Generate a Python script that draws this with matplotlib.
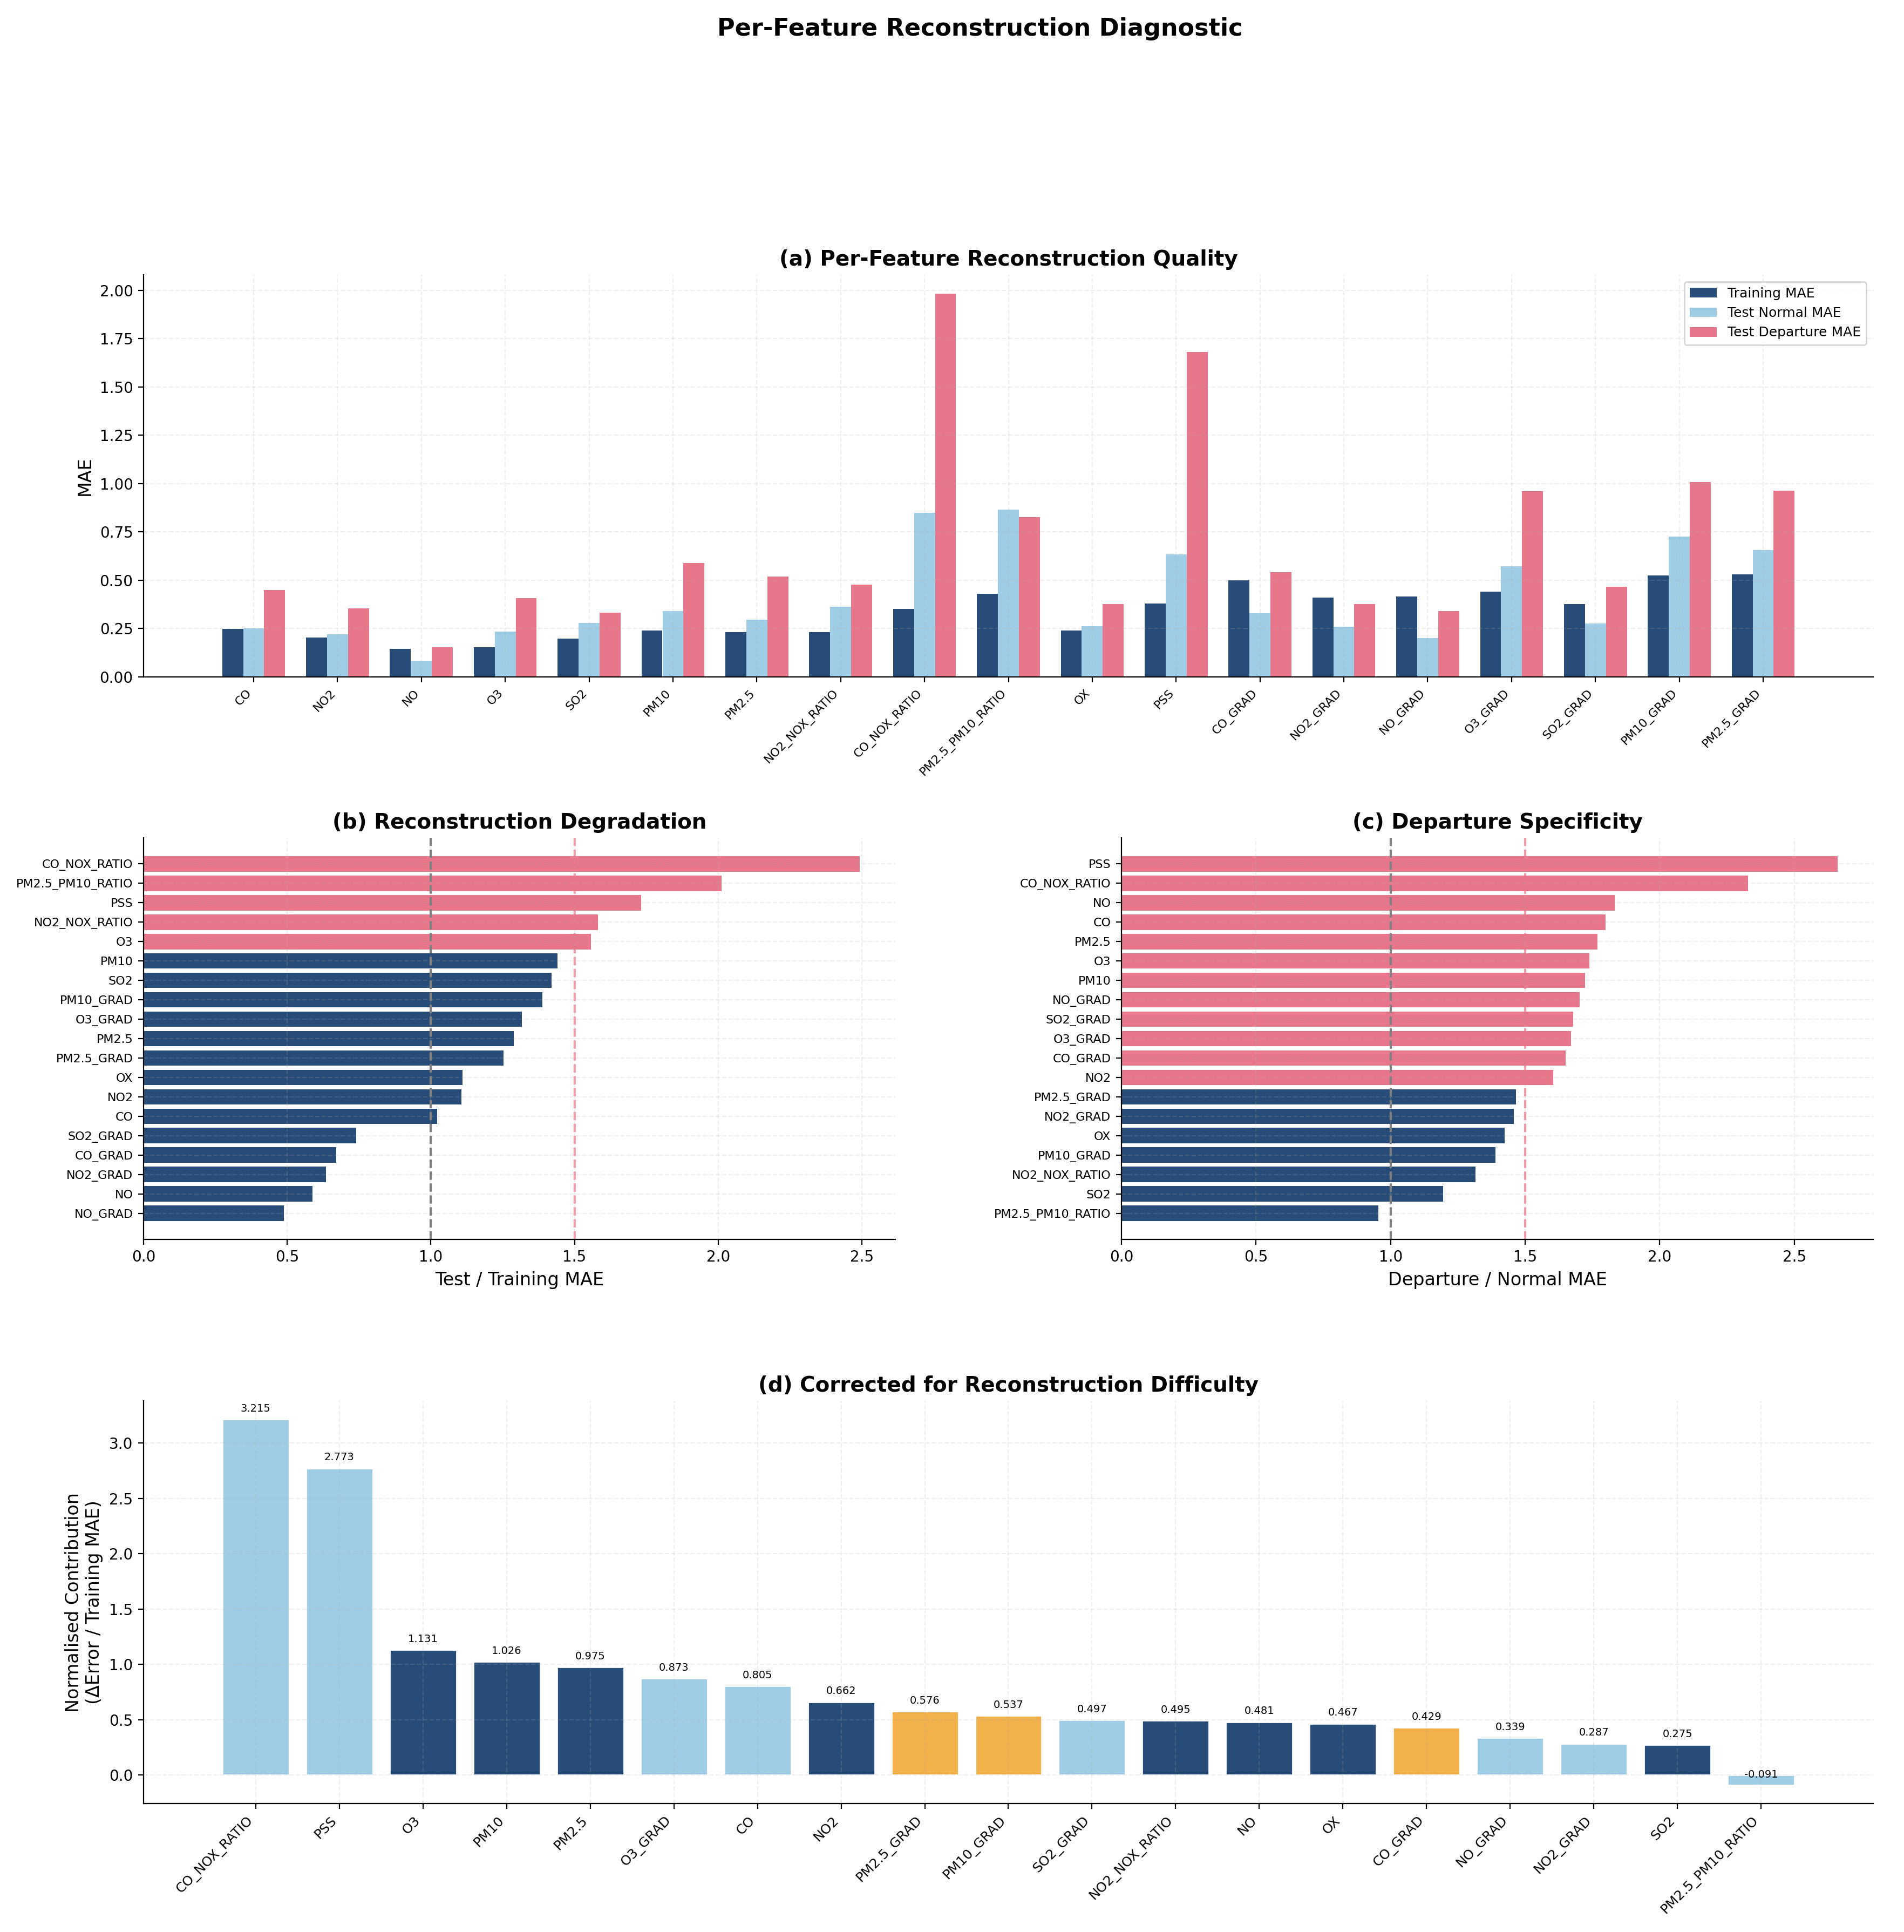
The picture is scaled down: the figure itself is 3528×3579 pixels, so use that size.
import matplotlib
matplotlib.use("Agg")
import matplotlib.pyplot as plt
import numpy as np

# ---------------- data ----------------
features = ["CO", "NO2", "NO", "O3", "SO2", "PM10", "PM2.5", "NO2_NOX_RATIO",
            "CO_NOX_RATIO", "PM2.5_PM10_RATIO", "OX", "PSS", "CO_GRAD", "NO2_GRAD",
            "NO_GRAD", "O3_GRAD", "SO2_GRAD", "PM10_GRAD", "PM2.5_GRAD"]
train_mae = [0.249, 0.203, 0.145, 0.154, 0.198, 0.240, 0.232, 0.232, 0.352, 0.429,
             0.240, 0.379, 0.499, 0.411, 0.416, 0.441, 0.377, 0.524, 0.531]
normal_mae = [0.252, 0.220, 0.085, 0.235, 0.279, 0.340, 0.296, 0.363, 0.850, 0.866,
              0.262, 0.634, 0.330, 0.259, 0.201, 0.571, 0.276, 0.725, 0.656]
departure_mae = [0.450, 0.355, 0.154, 0.407, 0.331, 0.588, 0.519, 0.477, 1.981, 0.827,
                 0.377, 1.682, 0.541, 0.377, 0.340, 0.960, 0.467, 1.008, 0.962]

degr_labels = ["CO_NOX_RATIO", "PM2.5_PM10_RATIO", "PSS", "NO2_NOX_RATIO", "O3", "PM10",
               "SO2", "PM10_GRAD", "O3_GRAD", "PM2.5", "PM2.5_GRAD", "OX", "NO2", "CO",
               "SO2_GRAD", "CO_GRAD", "NO2_GRAD", "NO", "NO_GRAD"]
degr_values = [2.492, 2.011, 1.731, 1.581, 1.558, 1.440, 1.421, 1.389, 1.317, 1.288,
               1.252, 1.111, 1.107, 1.022, 0.740, 0.670, 0.634, 0.588, 0.489]

spec_labels = ["PSS", "CO_NOX_RATIO", "NO", "CO", "PM2.5", "O3", "PM10", "NO_GRAD",
               "SO2_GRAD", "O3_GRAD", "CO_GRAD", "NO2", "PM2.5_GRAD", "NO2_GRAD", "OX",
               "PM10_GRAD", "NO2_NOX_RATIO", "SO2", "PM2.5_PM10_RATIO"]
spec_values = [2.660, 2.328, 1.833, 1.799, 1.768, 1.738, 1.722, 1.702, 1.679, 1.670,
               1.650, 1.605, 1.465, 1.458, 1.424, 1.390, 1.316, 1.194, 0.954]

norm_labels = ["CO_NOX_RATIO", "PSS", "O3", "PM10", "PM2.5", "O3_GRAD", "CO", "NO2",
               "PM2.5_GRAD", "PM10_GRAD", "SO2_GRAD", "NO2_NOX_RATIO", "NO", "OX",
               "CO_GRAD", "NO_GRAD", "NO2_GRAD", "SO2", "PM2.5_PM10_RATIO"]
norm_values = [3.215, 2.773, 1.131, 1.026, 0.975, 0.873, 0.805, 0.662, 0.576, 0.537,
               0.497, 0.495, 0.481, 0.467, 0.429, 0.339, 0.287, 0.275, -0.091]
norm_groups = ["light", "light", "dark", "dark", "dark", "light", "light", "dark",
               "orange", "orange", "light", "dark", "dark", "dark", "orange", "light",
               "light", "dark", "light"]

# ---------------- style ----------------
NAVY = "#274C77"
LIGHT = "#9ECDE5"
PINK = "#E8768A"
ORANGE = "#F2B14A"
group_colors = {"dark": NAVY, "light": LIGHT, "orange": ORANGE}

W, H = 3528, 3579
DPI = 200
fig = plt.figure(figsize=(W / DPI, H / DPI), dpi=DPI)


def box(l, t, r, b):
    return [l / W, 1 - b / H, (r - l) / W, (b - t) / H]


def style(ax):
    ax.spines["top"].set_visible(False)
    ax.spines["right"].set_visible(False)
    ax.grid(True, alpha=0.2, linestyle="--")
    ax.tick_params(labelsize=10)


fig.text(0.5147, 1 - 66 / H, "Per-Feature Reconstruction Diagnostic",
         ha="center", va="baseline", fontsize=16, fontweight="bold")

# ---------------- (a) ----------------
axa = fig.add_axes(box(266, 509, 3471, 1254))
x = np.arange(len(features))
w = 0.25
axa.bar(x - w, train_mae, w, color=NAVY, label="Training MAE")
axa.bar(x, normal_mae, w, color=LIGHT, label="Test Normal MAE")
axa.bar(x + w, departure_mae, w, color=PINK, label="Test Departure MAE")
axa.set_xticks(x)
axa.set_xticklabels(features, rotation=45, ha="right", fontsize=8)
axa.set_ylabel("MAE", fontsize=12)
axa.set_title("(a) Per-Feature Reconstruction Quality", fontsize=14, fontweight="bold")
axa.legend(fontsize=9, loc="upper right")
style(axa)
axa.tick_params(axis="x", labelsize=8)

# ---------------- (b) ----------------
axb = fig.add_axes(box(266, 1552, 1659, 2296))
yb = np.arange(len(degr_labels))
axb.barh(yb, degr_values, color=[PINK if v > 1.5 else NAVY for v in degr_values])
axb.set_yticks(yb)
axb.set_yticklabels(degr_labels, fontsize=8)
axb.invert_yaxis()
axb.axvline(1.0, color="gray", linestyle="--", linewidth=1.5)
axb.axvline(1.5, color=PINK, linestyle="--", linewidth=1.5, alpha=0.7)
axb.set_xlabel("Test / Training MAE", fontsize=12)
axb.set_title("(b) Reconstruction Degradation", fontsize=14, fontweight="bold")
style(axb)
axb.tick_params(axis="y", labelsize=8)

# ---------------- (c) ----------------
axc = fig.add_axes(box(2078, 1552, 3471, 2296))
yc = np.arange(len(spec_labels))
axc.barh(yc, spec_values, color=[PINK if v > 1.5 else NAVY for v in spec_values])
axc.set_yticks(yc)
axc.set_yticklabels(spec_labels, fontsize=8)
axc.invert_yaxis()
axc.axvline(1.0, color="gray", linestyle="--", linewidth=1.5)
axc.axvline(1.5, color=PINK, linestyle="--", linewidth=1.5, alpha=0.7)
axc.set_xlabel("Departure / Normal MAE", fontsize=12)
axc.set_title("(c) Departure Specificity", fontsize=14, fontweight="bold")
style(axc)
axc.tick_params(axis="y", labelsize=8)

# ---------------- (d) ----------------
axd = fig.add_axes(box(266, 2595, 3471, 3341))
xd = np.arange(len(norm_labels))
axd.bar(xd, norm_values, 0.8, color=[group_colors[g] for g in norm_groups],
        edgecolor="white", linewidth=1)
for xi, v in zip(xd, norm_values):
    axd.text(xi, v + 0.05, f"{v:.3f}", ha="center", va="bottom", fontsize=7)
axd.set_xticks(xd)
axd.set_xticklabels(norm_labels, rotation=45, ha="right", fontsize=9)
axd.set_ylabel("Normalised Contribution\n(\u0394Error / Training MAE)", fontsize=12)
axd.set_title("(d) Corrected for Reconstruction Difficulty", fontsize=14, fontweight="bold")
style(axd)
axd.tick_params(axis="x", labelsize=9)

fig.savefig("out.png", dpi=DPI)
